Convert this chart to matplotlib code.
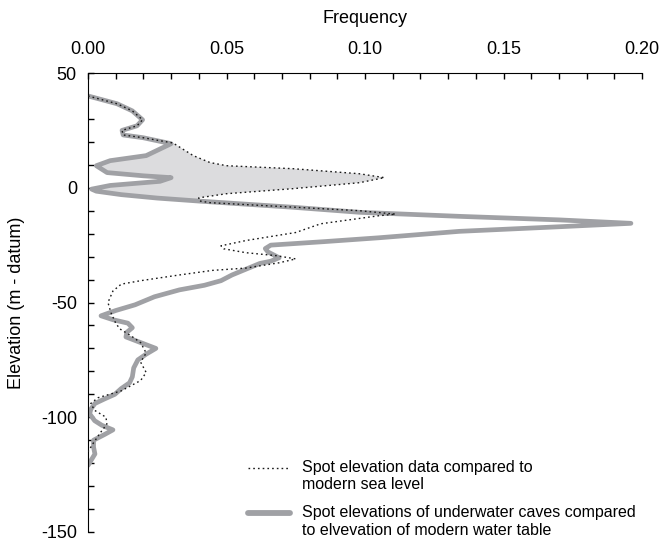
import numpy as np
import matplotlib
matplotlib.use("Agg")
import matplotlib.pyplot as plt
from matplotlib.ticker import MultipleLocator

plt.rcParams['font.family'] = ['Liberation Sans', 'DejaVu Sans']
plt.rcParams['axes.unicode_minus'] = False

# Frequency profiles (elevation in m, frequency)
cave_elev = [40, 36.6, 33.5, 29.6, 27, 25, 23, 21.8, 19.2, 14, 11.8, 9.6, 6.6,
             5.2, 4.4, 2.8, 1, -0.6, -1.5, -3, -4.5, -5.8, -7, -8.5, -10.7,
             -12.5, -14, -15.5, -17, -19, -21.8, -23.5, -25, -26.5, -28, -30.5,
             -32, -33, -36, -38, -40.5, -42.5, -44.5, -47.5, -51, -53.5, -55.8,
             -57.5, -59, -61, -63, -65, -67, -70, -72.5, -75, -78.5, -82.4, -85,
             -87.5, -90, -92, -94, -96.5, -98.5, -101.5, -103.5, -105.5, -107.5,
             -110, -113, -116, -118, -121]
cave_freq = [0.0, 0.0105, 0.016, 0.0197, 0.0177, 0.0123, 0.0127, 0.0199, 0.030,
             0.021, 0.008, 0.003, 0.0069, 0.020, 0.030, 0.026, 0.008, 0.0013,
             0.003, 0.012, 0.025, 0.040, 0.055, 0.074, 0.098, 0.135, 0.17, 0.196,
             0.17, 0.134, 0.105, 0.085, 0.066, 0.064, 0.065, 0.069, 0.066, 0.062,
             0.056, 0.052, 0.048, 0.042, 0.033, 0.024, 0.017, 0.010, 0.0047,
             0.009, 0.0144, 0.016, 0.014, 0.0137, 0.018, 0.0245, 0.021, 0.018,
             0.0165, 0.016, 0.015, 0.012, 0.0097, 0.006, 0.0025, 0.001, 0.0006,
             0.0024, 0.005, 0.009, 0.006, 0.002, 0.002, 0.0025, 0.0015, 0.0]

sea_elev = [40, 36.6, 33.5, 29.6, 27, 25, 23, 21.8, 19.5, 14, 11, 9.6, 8.3, 6.1,
            4.4, 2.2, -0.4, -2.6, -4.4, -5.7, -6.5, -10, -11.5, -12.2, -15.7,
            -19.5, -23, -25.3, -26.6, -28.3, -29.6, -31, -32.7, -35, -36, -38,
            -40.5, -42, -45, -50, -54.5, -59, -61.5, -64.5, -67.5, -72, -76,
            -80.5, -84, -88.5, -91.5, -94, -97, -100, -103, -107, -111.5, -115]
sea_freq = [0.0, 0.0105, 0.016, 0.0197, 0.0177, 0.0123, 0.0127, 0.0199, 0.0307,
            0.038, 0.044, 0.050, 0.074, 0.098, 0.107, 0.098, 0.074, 0.050, 0.040,
            0.040, 0.044, 0.098, 0.111, 0.105, 0.084, 0.075, 0.057, 0.048, 0.049,
            0.057, 0.068, 0.075, 0.069, 0.057, 0.045, 0.033, 0.019, 0.012, 0.009,
            0.0072, 0.0083, 0.010, 0.0115, 0.0155, 0.019, 0.021, 0.019, 0.021,
            0.019, 0.012, 0.0036, 0.001, 0.0024, 0.0065, 0.0068, 0.0043, 0.0018,
            0.0]

sea_label = "Spot elevation data compared to\nmodern sea level"
cave_label = "Spot elevations of underwater caves compared\nto elvevation of modern water table"

cave_elev = np.array(cave_elev)
cave_freq = np.array(cave_freq)
sea_elev = np.array(sea_elev)
sea_freq = np.array(sea_freq)

fig = plt.figure(figsize=(6.65, 5.42), dpi=100)
ax = fig.add_axes([88/665, 10/542, 554/665, 459/542])

# shaded area between the two profiles near sea level
m_sea = (sea_elev <= 19.5) & (sea_elev >= -5.7)
m_cave = (cave_elev <= 19.2) & (cave_elev >= -5.8)
poly_x = np.concatenate([sea_freq[m_sea], cave_freq[m_cave][::-1]])
poly_y = np.concatenate([sea_elev[m_sea], cave_elev[m_cave][::-1]])
ax.fill(poly_x, poly_y, color='#dcdcde', lw=0, zorder=1)

ax.plot(cave_freq, cave_elev, color='#a0a1a5', lw=3.4, solid_joinstyle='round',
        solid_capstyle='round', label=cave_label, zorder=2)
ax.plot(sea_freq, sea_elev, color='#1a1a1a', lw=1.0, ls=(0, (1.2, 2.2)),
        label=sea_label, zorder=3)

ax.set_xlim(0, 0.2)
ax.set_ylim(-150, 50)

ax.spines['right'].set_visible(False)
ax.spines['bottom'].set_visible(False)
ax.xaxis.set_ticks_position('top')
ax.xaxis.set_label_position('top')
ax.xaxis.set_major_locator(MultipleLocator(0.05))
ax.xaxis.set_minor_locator(MultipleLocator(0.01))
ax.yaxis.set_major_locator(MultipleLocator(50))
ax.yaxis.set_minor_locator(MultipleLocator(10))
ax.xaxis.set_major_formatter(plt.FormatStrFormatter('%.2f'))
ax.tick_params(which='both', direction='in', length=4, width=1, labelsize=13)
ax.tick_params(axis='x', which='major', pad=11)
ax.tick_params(axis='y', which='major', pad=8)

ax.set_xlabel('Frequency', fontsize=13, labelpad=13)
ax.set_ylabel('Elevation (m - datum)', fontsize=13, labelpad=11)

handles, labels = ax.get_legend_handles_labels()
leg = ax.legend(handles[::-1], labels[::-1], loc='upper left', bbox_to_anchor=(0.289, 0.157),
                frameon=False, fontsize=11.5, handlelength=2.6, handletextpad=0.75,
                borderpad=0, borderaxespad=0, labelspacing=0.8)
# line the legend samples up with the first line of each label
for ln in leg.get_lines():
    ln.set_ydata(np.asarray(ln.get_ydata()) + 6)
leg.get_lines()[1].set_linewidth(4.2)

fig.savefig('out.png', dpi=100)
